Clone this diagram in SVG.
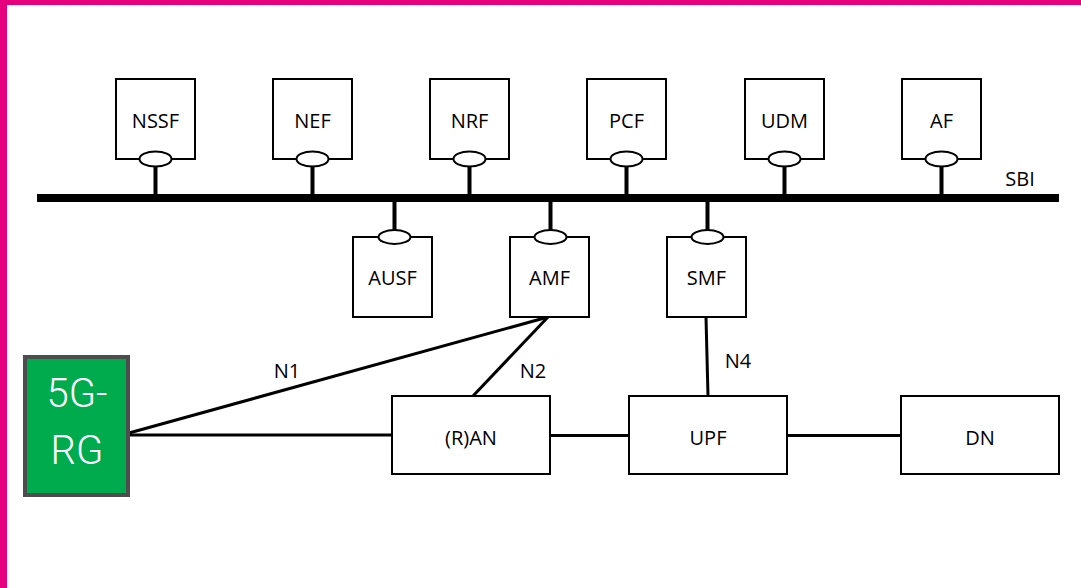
<svg xmlns="http://www.w3.org/2000/svg" width="1081" height="588" viewBox="0 0 1081 588">
<style>
.box{fill:#fff;stroke:#000;stroke-width:2}
.port{fill:#fff;stroke:#000;stroke-width:2}
.stem{stroke:#000;stroke-width:4}
.lbl{font-family:"Open Sans","Liberation Sans",sans-serif;font-size:20px;fill:#000;text-anchor:middle}
.ln{stroke:#000;stroke-width:3;fill:none}
.rg{font-family:Roboto,"Liberation Sans",sans-serif;font-weight:300;font-size:40px;fill:#fff;text-anchor:middle}
</style>
<rect x="0" y="0" width="1081" height="588" fill="#fff"/>
<rect x="0" y="0" width="7" height="588" fill="#E6007E"/>
<rect x="0" y="0" width="1081" height="5" fill="#E6007E"/>
<g id="bus">
<rect x="37" y="194" width="1022" height="8" fill="#000"/>
<text x="1020" y="186" class="lbl">SBI</text>
</g>
<g id="connectors">
<line class="stem" x1="155.5" y1="166" x2="155.5" y2="196"/>
<line class="stem" x1="312.5" y1="166" x2="312.5" y2="196"/>
<line class="stem" x1="469.5" y1="166" x2="469.5" y2="196"/>
<line class="stem" x1="626.5" y1="166" x2="626.5" y2="196"/>
<line class="stem" x1="784.5" y1="166" x2="784.5" y2="196"/>
<line class="stem" x1="941.5" y1="166" x2="941.5" y2="196"/>
<line class="stem" x1="394.5" y1="200" x2="394.5" y2="231"/>
<line class="stem" x1="550.5" y1="200" x2="550.5" y2="231"/>
<line class="stem" x1="707.5" y1="200" x2="707.5" y2="231"/>
<line class="ln" x1="129" y1="433" x2="548" y2="317"/>
<line class="ln" x1="129" y1="435" x2="392" y2="435"/>
<line class="ln" x1="473" y1="396" x2="548" y2="317"/>
<line class="ln" x1="706" y1="317" x2="708" y2="396"/>
<line class="ln" x1="550" y1="435.5" x2="629" y2="435.5"/>
<line class="ln" x1="787" y1="435.5" x2="901" y2="435.5"/>
<text x="287" y="378" class="lbl">N1</text>
<text x="533" y="378" class="lbl">N2</text>
<text x="738" y="368" class="lbl">N4</text>
</g>
<g id="NSSF"><rect class="box" x="116" y="79" width="79" height="80"/><ellipse class="port" cx="155.5" cy="159" rx="16" ry="7.5"/><text x="155.5" y="128" class="lbl">NSSF</text></g>
<g id="NEF"><rect class="box" x="273" y="79" width="79" height="80"/><ellipse class="port" cx="312.5" cy="159" rx="16" ry="7.5"/><text x="312.5" y="128" class="lbl">NEF</text></g>
<g id="NRF"><rect class="box" x="430" y="79" width="79" height="80"/><ellipse class="port" cx="469.5" cy="159" rx="16" ry="7.5"/><text x="469.5" y="128" class="lbl">NRF</text></g>
<g id="PCF"><rect class="box" x="587" y="79" width="79" height="80"/><ellipse class="port" cx="626.5" cy="159" rx="16" ry="7.5"/><text x="626.5" y="128" class="lbl">PCF</text></g>
<g id="UDM"><rect class="box" x="745" y="79" width="79" height="80"/><ellipse class="port" cx="784.5" cy="159" rx="16" ry="7.5"/><text x="784.5" y="128" class="lbl">UDM</text></g>
<g id="AF"><rect class="box" x="902" y="79" width="79" height="80"/><ellipse class="port" cx="941.5" cy="159" rx="16" ry="7.5"/><text x="941.5" y="128" class="lbl">AF</text></g>
<g id="AUSF"><rect class="box" x="353" y="237" width="79" height="80"/><ellipse class="port" cx="394.5" cy="237" rx="16" ry="7"/><text x="392.5" y="285" class="lbl">AUSF</text></g>
<g id="AMF"><rect class="box" x="510" y="237" width="79" height="80"/><ellipse class="port" cx="550.5" cy="237" rx="16" ry="7"/><text x="549.5" y="285" class="lbl">AMF</text></g>
<g id="SMF"><rect class="box" x="667" y="237" width="79" height="80"/><ellipse class="port" cx="707.5" cy="237" rx="16" ry="7"/><text x="706.5" y="285" class="lbl">SMF</text></g>
<g id="RAN"><rect class="box" x="392" y="396" width="158" height="78"/><text x="471" y="445" class="lbl">(R)AN</text></g>
<g id="UPF"><rect class="box" x="629" y="396" width="158" height="78"/><text x="708" y="445" class="lbl">UPF</text></g>
<g id="DN"><rect class="box" x="901" y="396" width="158" height="78"/><text x="980" y="445" class="lbl">DN</text></g>
<g id="RG5G"><rect x="25" y="357" width="103" height="138" fill="#00AB4E" stroke="#4D4D4D" stroke-width="4"/><text x="77" y="407" class="rg">5G-</text><text x="77" y="464" class="rg">RG</text></g>
</svg>
